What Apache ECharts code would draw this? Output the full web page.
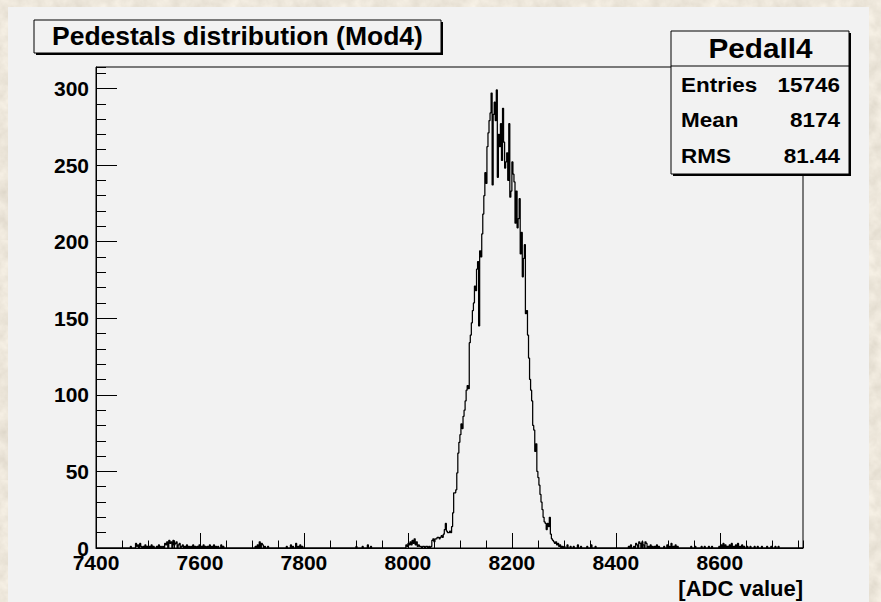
<!DOCTYPE html>
<html>
<head>
<meta charset="utf-8">
<script src="https://cdn.jsdelivr.net/npm/echarts@6/dist/echarts.min.js"></script>
<style>
  html, body { margin: 0; padding: 0; }
  body {
    width: 881px; height: 602px; overflow: hidden;
    background-color: #d8ccb4;
    background-image: url("data:image/svg+xml;utf8,<svg xmlns='http://www.w3.org/2000/svg' width='240' height='240'><filter id='n'><feTurbulence type='fractalNoise' baseFrequency='0.07' numOctaves='4' seed='7'/><feColorMatrix values='0.26 0 0 0 0.71  0.26 0 0 0 0.66  0.26 0 0 0 0.57  0 0 0 0 1'/></filter><rect width='240' height='240' filter='url(%23n)'/></svg>");
  }
  #chart { width: 881px; height: 602px; }
</style>
</head>
<body>
<div id="chart"></div>
<script>
// ---- histogram definition ----
const titleText = 'Pedestals distribution (Mod4)';
const xAxisTitle = '[ADC value]';
const statsName = 'Pedall4';
const statsLabels = ['Entries', 'Mean', 'RMS'];
const statsValues = ['15746', '8174', '81.44'];

const xMin = 7400;
const xMax = 8760;
const binWidth = 2;
const yMin = 0;
const yMax = 314;
const xTickStep = 200;
const xMinorStep = 50;
const yTickStep = 50;
const yMinorStep = 10;

// counts of consecutive bins, first bin starting at peakStart
const peakStart = 7996;
const peakCounts = [
  2, 1, 3, 2, 4, 2, 5, 3, 6, 2, 4, 1, 2, 1, 1, 0, 1, 1, 0, 1,
  1, 0, 1, 0, 1, 5, 6, 4, 6, 6, 7, 7, 6, 7, 8, 7, 9, 12, 16, 11,
  10, 10, 11, 10, 14, 23, 36, 36, 38, 49, 62, 69, 74, 81, 78, 86, 90, 96, 103, 106,
  104, 134, 139, 147, 155, 160, 171, 168, 182, 187, 145, 194, 190, 205, 218, 230, 245, 238, 262, 271,
  279, 284, 297, 237, 283, 291, 279, 299, 242, 270, 262, 277, 253, 287, 265, 248, 252, 258, 240, 277,
  229, 233, 252, 244, 239, 212, 233, 209, 215, 228, 192, 206, 177, 189, 198, 153, 155, 139, 124, 110,
  103, 96, 80, 77, 63, 68, 50, 46, 41, 35, 30, 25, 20, 17, 16, 12, 16, 14, 20, 9,
  6, 5, 4, 3, 4, 2, 3, 1, 2, 0, 1
];

// isolated low-count bins in the tails: [bin low edge, count]
const tailBins = [
  [7466, 1], [7476, 3], [7478, 1], [7480, 2], [7484, 3], [7486, 1], [7490, 1], [7494, 2],
  [7498, 1], [7502, 1], [7506, 2], [7510, 1], [7516, 1], [7520, 2], [7524, 1], [7528, 1],
  [7532, 3], [7534, 2], [7536, 4], [7540, 5], [7542, 3], [7544, 4], [7548, 5], [7550, 2],
  [7552, 3], [7554, 4], [7558, 2], [7560, 3], [7564, 1], [7566, 2], [7570, 1], [7574, 2],
  [7578, 1], [7582, 1], [7586, 2], [7590, 1], [7594, 1], [7598, 2], [7602, 1], [7606, 2],
  [7610, 1], [7614, 1], [7618, 2], [7622, 1], [7626, 2], [7630, 1], [7634, 1], [7640, 2],
  [7644, 1],
  [7706, 1], [7710, 2], [7714, 4], [7718, 3], [7720, 2], [7724, 1], [7730, 1],
  [7766, 1], [7774, 2], [7778, 1], [7784, 3], [7788, 1], [7792, 2], [7796, 1],
  [7900, 1], [7912, 1], [7922, 2], [7928, 1],
  [8300, 1], [8306, 2], [8312, 1], [8318, 1], [8326, 2], [8332, 1], [8344, 1], [8352, 2],
  [8360, 1],
  [8424, 1], [8428, 2], [8434, 1], [8438, 3], [8440, 2], [8444, 4], [8446, 3], [8450, 4],
  [8452, 2], [8456, 4], [8458, 3], [8462, 1], [8466, 2], [8470, 1], [8474, 1], [8478, 2],
  [8482, 1], [8492, 1], [8498, 2], [8502, 1], [8506, 3], [8510, 1], [8514, 2], [8518, 1],
  [8544, 1], [8552, 1], [8564, 1], [8570, 1], [8578, 1], [8584, 1],
  [8598, 1], [8602, 2], [8606, 3], [8610, 2], [8614, 1], [8618, 2], [8622, 3], [8626, 1],
  [8630, 2], [8634, 3], [8638, 1], [8642, 2], [8646, 1], [8652, 1], [8658, 1], [8666, 1],
  [8672, 1], [8680, 1], [8690, 1], [8698, 1], [8706, 1], [8712, 1]
];

// ---- build the binned histogram ----
const nBins = Math.round((xMax - xMin) / binWidth);
const counts = new Array(nBins).fill(0);
tailBins.forEach(([edge, c]) => { counts[Math.round((edge - xMin) / binWidth)] = c; });
const peakOffset = Math.round((peakStart - xMin) / binWidth);
peakCounts.forEach((c, i) => { counts[peakOffset + i] = c; });

// step outline: one point per bin low edge, closed at the upper edge of the last bin
const outline = counts.map((c, i) => [xMin + i * binWidth, c]);
outline.push([xMax, counts[nBins - 1]]);

// ---- layout ----
const FONT = '"Liberation Sans", Arial, Helvetica, sans-serif';
const frame = { left: 96, top: 67, right: 803, bottom: 548 };
const padColor = '#f2f2f2';

const chart = echarts.init(document.getElementById('chart'), null, { renderer: 'svg' });

const labelStyle = { color: '#000', fontFamily: FONT, fontWeight: 'bold', fontSize: 21 };

// text helper for the boxes; widen slightly to follow the wide bold face of the pad text
function boxText(text, x, y, size, align, widen) {
  return {
    type: 'text', z: 52, x: x, y: y, scaleX: widen, scaleY: 1,
    style: {
      text: text, fill: '#000', font: 'bold ' + size + 'px ' + FONT,
      align: align, textAlign: align, verticalAlign: 'middle', textVerticalAlign: 'middle'
    }
  };
}

const option = {
  animation: false,
  backgroundColor: 'transparent',
  grid: {
    left: frame.left, top: frame.top,
    width: frame.right - frame.left, height: frame.bottom - frame.top,
    show: true, borderColor: '#000', borderWidth: 1, backgroundColor: 'transparent'
  },
  xAxis: [
    {
      type: 'value', min: xMin, max: xMax, interval: xTickStep, position: 'bottom',
      axisLine: { show: true, onZero: false, lineStyle: { color: '#000', width: 1 } },
      axisTick: { show: true, inside: true, length: 15, lineStyle: { color: '#000', width: 1 } },
      axisLabel: Object.assign({ margin: 4, showMaxLabel: false,
        formatter: v => (v % xTickStep === 0 && v < xMax) ? String(v) : '' }, labelStyle),
      splitLine: { show: false }
    },
    {
      type: 'value', min: xMin, max: xMax, interval: xMinorStep, position: 'bottom',
      axisLine: { show: false },
      axisTick: { show: true, inside: true, length: 7.5, lineStyle: { color: '#000', width: 1 } },
      axisLabel: { show: false },
      splitLine: { show: false }
    }
  ],
  yAxis: [
    {
      type: 'value', min: yMin, max: yMax, interval: yTickStep, position: 'left',
      axisLine: { show: true, onZero: false, lineStyle: { color: '#000', width: 1 } },
      axisTick: { show: true, inside: true, length: 21, lineStyle: { color: '#000', width: 1 } },
      axisLabel: Object.assign({ margin: 7, showMaxLabel: false,
        formatter: v => (v % yTickStep === 0) ? String(v) : '' }, labelStyle),
      splitLine: { show: false }
    },
    {
      type: 'value', min: yMin, max: yMax, interval: yMinorStep, position: 'left',
      axisLine: { show: false },
      axisTick: { show: true, inside: true, length: 10, lineStyle: { color: '#000', width: 1 } },
      axisLabel: { show: false },
      splitLine: { show: false }
    }
  ],
  series: [
    {
      type: 'line', step: 'end', data: outline, xAxisIndex: 0, yAxisIndex: 0,
      symbol: 'none', clip: true, z: 5,
      lineStyle: { color: '#000', width: 1.25 }
    }
  ],
  graphic: [
    // pad background
    { type: 'rect', z: -10, silent: true,
      shape: { x: 8, y: 7, width: 861, height: 595 }, style: { fill: padColor } },

    // title box with drop shadow
    { type: 'rect', z: 50, shape: { x: 36, y: 22, width: 407, height: 33 }, style: { fill: '#000' } },
    { type: 'rect', z: 51, shape: { x: 34, y: 20, width: 407, height: 33 },
      style: { fill: padColor, stroke: '#000', lineWidth: 1 } },
    boxText(titleText, 52, 36.5, 25, 'left', 1.06),

    // statistics box with drop shadow
    { type: 'rect', z: 50, shape: { x: 673, y: 33, width: 178, height: 143 }, style: { fill: '#000' } },
    { type: 'rect', z: 51, shape: { x: 671, y: 31, width: 178, height: 143 },
      style: { fill: padColor, stroke: '#000', lineWidth: 1 } },
    { type: 'line', z: 52, shape: { x1: 671, y1: 66, x2: 849, y2: 66 }, style: { stroke: '#000', lineWidth: 1 } },
    boxText(statsName, 760.5, 48, 27, 'center', 1.1),
    ...statsLabels.map((t, i) => boxText(t, 681, 84.5 + i * 35.5, 21, 'left', 1.07)),
    ...statsValues.map((t, i) => boxText(t, 840, 84.5 + i * 35.5, 21, 'right', 1.07)),

    // x-axis title
    boxText(xAxisTitle, 803, 588, 22, 'right', 1.0)
  ]
};

chart.setOption(option);
</script>
</body>
</html>
